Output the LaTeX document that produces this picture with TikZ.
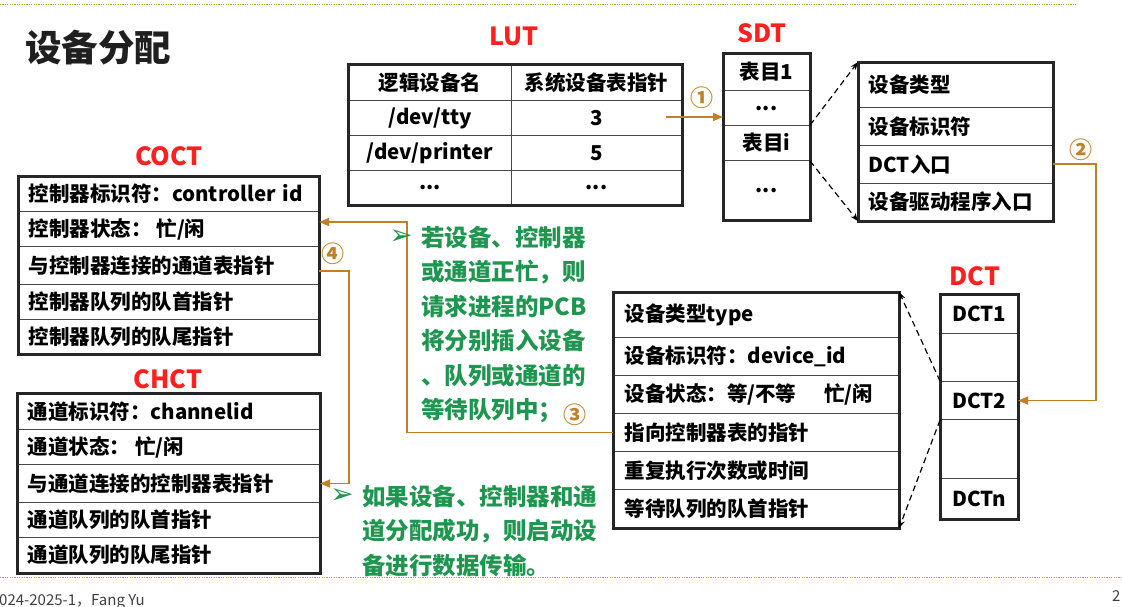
\documentclass[tikz,border=0pt]{standalone}
\usepackage{fontspec}
\setmainfont{Noto Sans CJK SC}
\newfontfamily\symfont{DejaVu Sans}
\usetikzlibrary{arrows.meta,calc}

\definecolor{labelred}{RGB}{255,32,32}
\definecolor{linkorange}{RGB}{192,128,40}
\definecolor{notegreen}{RGB}{30,150,80}
\definecolor{gridgray}{RGB}{70,70,70}
\definecolor{framegray}{RGB}{38,38,38}
\definecolor{rulegold}{RGB}{180,160,60}
\definecolor{logotan}{RGB}{228,180,140}

\newcommand\tabfont{\fontsize{20.5pt}{24pt}\selectfont\bfseries}

\tikzset{
  cellL/.style={draw=gridgray, line width=1.1pt, inner xsep=10pt, inner ysep=0pt,
    anchor=north west, align=left, font=\tabfont, text=black},
  cellC/.style={draw=gridgray, line width=1.1pt, inner sep=0pt,
    anchor=north west, align=center, font=\tabfont, text=black},
  frame/.style={draw=framegray, line width=3pt},
  link/.style={draw=linkorange, line width=1.6pt, -{Triangle[length=10pt,width=8pt]}},
  refline/.style={draw=black, line width=1.2pt, dash pattern=on 6pt off 4pt,
    -{Stealth[length=8pt,width=6pt]}},
  tag/.style={text=labelred, font=\fontsize{25pt}{30pt}\selectfont\bfseries, inner sep=0pt},
  circnum/.style={text=linkorange, font=\fontsize{23pt}{26pt}\selectfont\bfseries, inner sep=0pt},
  note/.style={text=notegreen, font=\fontsize{23.5pt}{34.5pt}\selectfont\bfseries,
    align=left, anchor=north west, inner sep=0pt},
  bullet/.style={text=notegreen, font=\symfont\fontsize{28pt}{30pt}\selectfont, inner sep=0pt},
  dotrule/.style={draw=rulegold, line width=1pt, dash pattern=on 1.2pt off 1.2pt}
}

\begin{document}
\begin{tikzpicture}[x=1pt,y=-1pt]
\useasboundingbox (0,0) rectangle (1122,606);

% slide frame: dotted rules, logo edge, footer
\draw[dotrule] (0,4.5) -- (1076,4.5);
\draw[dotrule] (0,577) -- (1122,577);
\draw[draw=logotan, line width=1.2pt] (1074,0) arc[start angle=-143, end angle=-37, radius=32];
\draw[draw=logotan, line width=0.8pt] (1080,0) arc[start angle=-138, end angle=-42, radius=27];
\node[anchor=north west, inner sep=0pt, text=black!75, font=\fontsize{15pt}{18pt}\selectfont]
  (footer) at (-1,594) {024-2025-1，Fang Yu};
\node[anchor=north west, inner sep=0pt, text=black!75, font=\fontsize{15pt}{18pt}\selectfont]
  (pageno) at (1112,590) {2};

% title
\node[anchor=west, inner sep=0pt, text=black!88, font=\fontsize{36.5pt}{40pt}\selectfont\bfseries]
  (title) at (25,48) {设备分配};

% ---------------- LUT ----------------
\node[tag] (lutTag) at (514,36) {LUT};
\node[cellC, minimum width=163pt, minimum height=36pt] (lutA1) at (348,64) {逻辑设备名};
\node[cellC, minimum width=170pt, minimum height=36pt] (lutA2) at (511,64) {系统设备表指针};
\node[cellC, minimum width=163pt, minimum height=35pt] (lutB1) at (348,100) {/dev/tty};
\node[cellC, minimum width=170pt, minimum height=35pt] (lutB2) at (511,100) {3};
\node[cellC, minimum width=163pt, minimum height=35pt] (lutC1) at (348,135) {/dev/printer};
\node[cellC, minimum width=170pt, minimum height=35pt] (lutC2) at (511,135) {5};
\node[cellC, minimum width=163pt, minimum height=34pt] (lutD1) at (348,170) {...};
\node[cellC, minimum width=170pt, minimum height=34pt] (lutD2) at (511,170) {...};
\draw[frame] (lutA1.north west) rectangle (lutD2.south east);

% ---------------- SDT ----------------
\node[tag] (sdtTag) at (762,33) {SDT};
\node[cellC, minimum width=86pt, minimum height=37pt] (sdtA) at (723,53) {表目1};
\node[cellC, minimum width=86pt, minimum height=35pt] (sdtB) at (723,90) {...};
\node[cellC, minimum width=86pt, minimum height=35pt] (sdtC) at (723,125) {表目i};
\node[cellC, minimum width=86pt, minimum height=59pt] (sdtD) at (723,160) {...};
\draw[frame] (sdtA.north west) rectangle (sdtD.south east);

% SDT entry detail
\node[cellL, text width=174pt, minimum height=45pt] (entA) at (858,62) {设备类型};
\node[cellL, text width=174pt, minimum height=38pt] (entB) at (858,107) {设备标识符};
\node[cellL, text width=174pt, minimum height=38pt] (entC) at (858,145) {DCT入口};
\node[cellL, text width=174pt, minimum height=37pt] (entD) at (858,183) {设备驱动程序入口};
\draw[frame] (entA.north west) rectangle (entD.south east);

% ---------------- DCT list ----------------
\node[tag] (dctTag) at (975,276) {DCT};
\node[cellC, minimum width=77pt, minimum height=39pt] (dctA) at (940,294) {DCT1};
\node[cellC, minimum width=77pt, minimum height=48pt] (dctB) at (940,333) {};
\node[cellC, minimum width=77pt, minimum height=38pt] (dctC) at (940,381) {DCT2};
\node[cellC, minimum width=77pt, minimum height=59pt] (dctD) at (940,419) {};
\node[cellC, minimum width=77pt, minimum height=40pt] (dctE) at (940,478) {DCTn};
\draw[frame] (dctA.north west) rectangle (dctE.south east);

% DCT detail
\node[cellL, inner xsep=11pt, text width=263pt, minimum height=45pt] (devA) at (613,292) {设备类型type};
\node[cellL, inner xsep=11pt, text width=263pt, minimum height=38pt] (devB) at (613,337) {设备标识符：device\_id};
\node[cellL, inner xsep=11pt, text width=263pt, minimum height=38pt] (devC) at (613,375) {设备状态：等/不等\hspace{28pt}忙/闲};
\node[cellL, inner xsep=11pt, text width=263pt, minimum height=38pt] (devD) at (613,413) {指向控制器表的指针};
\node[cellL, inner xsep=11pt, text width=263pt, minimum height=38pt] (devE) at (613,451) {重复执行次数或时间};
\node[cellL, inner xsep=11pt, text width=263pt, minimum height=38pt] (devF) at (613,489) {等待队列的队首指针};
\draw[frame] (devA.north west) rectangle (devF.south east);

% ---------------- COCT ----------------
\node[tag] (coctTag) at (169,156) {COCT};
\node[cellL, text width=280pt, minimum height=35pt] (coctA) at (18,176) {控制器标识符：controller id};
\node[cellL, text width=280pt, minimum height=35pt] (coctB) at (18,211) {控制器状态：\hspace{5pt}忙/闲};
\node[cellL, text width=280pt, minimum height=38pt] (coctC) at (18,246) {与控制器连接的通道表指针};
\node[cellL, text width=280pt, minimum height=35pt] (coctD) at (18,284) {控制器队列的队首指针};
\node[cellL, text width=280pt, minimum height=34pt] (coctE) at (18,319) {控制器队列的队尾指针};
\draw[frame] (coctA.north west) rectangle (coctE.south east);

% ---------------- CHCT ----------------
\node[tag] (chctTag) at (168,379) {CHCT};
\node[cellL, text width=282pt, minimum height=36pt] (chctA) at (17,393) {通道标识符：channelid};
\node[cellL, text width=282pt, minimum height=35pt] (chctB) at (17,429) {通道状态：\hspace{5pt}忙/闲};
\node[cellL, text width=282pt, minimum height=38pt] (chctC) at (17,464) {与通道连接的控制器表指针};
\node[cellL, text width=282pt, minimum height=35pt] (chctD) at (17,502) {通道队列的队首指针};
\node[cellL, text width=282pt, minimum height=35pt] (chctE) at (17,537) {通道队列的队尾指针};
\draw[frame] (chctA.north west) rectangle (chctE.south east);

% ---------------- connectors ----------------
% (1) LUT pointer -> SDT
\coordinate (p1) at (666,117);
\draw[link] (p1) -- (p1 -| sdtB.west);
\node[circnum] (n1) at (702,98) {①};

% SDT entry i expanded
\draw[refline] (sdtC.north east) -- (entA.north west);
\draw[refline] (sdtC.south east) -- (entD.south west);

% (2) DCT entry -> DCT list
\coordinate (p2) at (1096,164);
\draw[link] (entC.east |- p2) -- (p2) |- (dctC.east);
\node[circnum] (n2) at (1081,150) {②};

% DCT2 expanded
\draw[refline] (dctC.north west) -- (devA.north east);
\draw[refline] (dctC.south west) -- (devF.south east);

% (3) controller pointer -> COCT
\coordinate (p3) at (407,222);
\draw[link] (devD.west) -| (p3) -- (p3 -| coctB.east);
\node[circnum] (n3) at (575,415) {③};

% (4) channel pointer -> CHCT
\coordinate (p4) at (349,271);
\draw[link] (p4 -| coctC.east) -- (p4) |- (chctC.east);
\node[circnum] (n4) at (333,254) {④};

% ---------------- notes ----------------
\node[bullet] (b1) at (401,237) {➢};
\node[note] (noteBusy) at (421,226) {若设备、控制器\\或通道正忙，则\\请求进程的PCB\\将分别插入设备\\、队列或通道的\\等待队列中；};
\node[bullet] (b2) at (342,496) {➢};
\node[note] (noteDone) at (362,485) {如果设备、控制器和通\\道分配成功，则启动设\\备进行数据传输。};
\end{tikzpicture}
\end{document}
